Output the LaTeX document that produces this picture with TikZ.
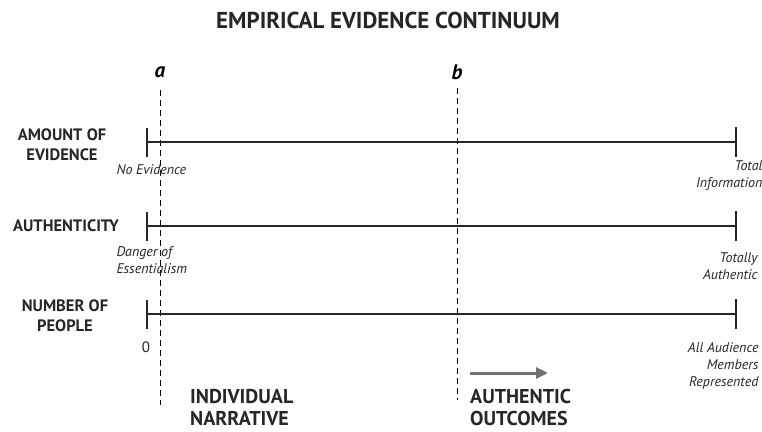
\documentclass[tikz,border=0pt]{standalone}
\usepackage{fontspec}
\setmainfont{PT Sans}
\usetikzlibrary{arrows.meta}
\begin{document}
\begin{tikzpicture}[x=1pt,y=-1pt,
  axis/.style={line width=1.8pt,black!85},
  tick/.style={line width=1.8pt,black!85},
  guide/.style={line width=0.8pt,dash pattern=on 6pt off 4pt},
  rowlab/.style={font=\fontsize{16.5}{20}\selectfont\bfseries,align=center,text=black!85},
  endlab/.style={font=\fontsize{14}{17}\selectfont\itshape,text=black!85},
  biglab/.style={font=\fontsize{20}{22}\selectfont\bfseries,align=left,anchor=west,text=black!85,inner sep=1pt}]
\useasboundingbox (0,0) rectangle (762,431);
\node[font=\fontsize{23}{26}\selectfont\bfseries,text=black!85] (title) at (388,20) {EMPIRICAL EVIDENCE CONTINUUM};
% guides
\node[font=\fontsize{21}{22}\selectfont\bfseries\itshape] (la) at (160,72) {a};
\node[font=\fontsize{21}{22}\selectfont\bfseries\itshape] (lb) at (457,72) {b};
\coordinate (a1) at (160,90); \coordinate (a2) at (160,405);
\coordinate (b1) at (457,88); \coordinate (b2) at (457,400);
\draw[guide] (a1) -- (a2);
\draw[guide] (b1) -- (b2);
% rows
\foreach \n/\y in {1/142,2/226,3/314}{
  \coordinate (L\n) at (147,\y); \coordinate (R\n) at (736,\y);
  \draw[axis] (L\n) -- (R\n);
  \draw[tick] ([yshift=-15pt]L\n) -- ([yshift=14pt]L\n);
  \draw[tick] ([yshift=-15pt]R\n) -- ([yshift=15pt]R\n);
}
\node[rowlab] (r1) at (62,145) {AMOUNT OF\\EVIDENCE};
\node[rowlab] (r2) at (66,226) {AUTHENTICITY};
\node[rowlab] (r3) at (65,316) {NUMBER OF\\PEOPLE};
\node[endlab,anchor=west] (e1) at (113,170) {No Evidence};
\node[endlab,align=right,anchor=east] (e2) at (766,176) {Total\\Information};
\node[endlab,align=left,anchor=west] (e3) at (113,260) {Danger of\\Essentialism};
\node[endlab,align=right,anchor=east] (e4) at (761,266) {Totally\\Authentic};
\node[font=\fontsize{15}{16}\selectfont,text=black!85] (zero) at (146,347) {0};
\node[endlab,align=right,anchor=east] (e5) at (762,366) {All Audience\\Members\\Represented};
\node[biglab] (ind) at (189,407) {INDIVIDUAL\\NARRATIVE};
\node[biglab] (auth) at (469,407) {AUTHENTIC\\OUTCOMES};
\coordinate (ar1) at (470,373); \coordinate (ar2) at (548,373);
\draw[line width=3pt,black!55,-{Triangle[length=12pt,width=11pt]}] (ar1) -- (ar2);
\end{tikzpicture}
\end{document}
